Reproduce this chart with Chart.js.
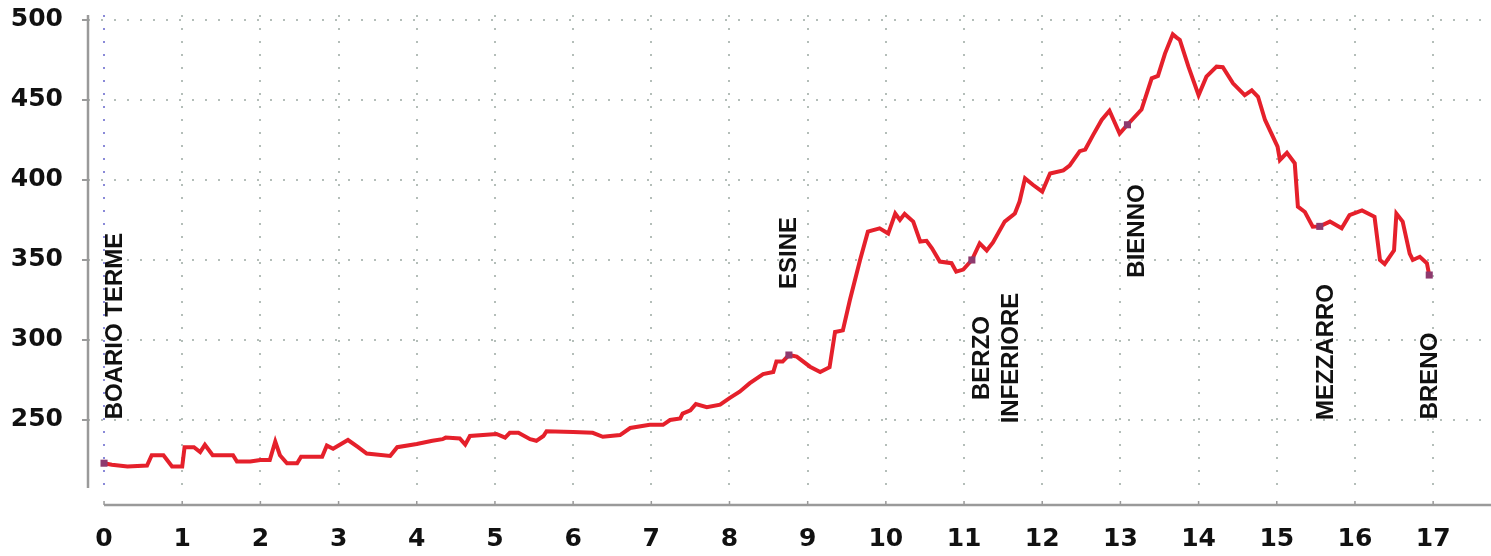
<!DOCTYPE html>
<html>
<head>
<meta charset="utf-8">
<script src="https://cdn.jsdelivr.net/npm/chart.js@4.4.1/dist/chart.umd.min.js"></script>
<style>
  html, body { margin: 0; padding: 0; background: #fff; }
  #wrap { width: 1491px; height: 556px; }
</style>
</head>
<body>
<div id="wrap"><canvas id="profile"></canvas></div>
<script>
// distance along the route (km) and altitude (m)
const km = [
    0.00, 0.10, 0.30, 0.55, 0.61, 0.76, 0.87, 1.00, 1.03, 1.15, 1.23, 1.29, 1.39, 1.65, 1.70, 1.87,
    2.00, 2.12, 2.19, 2.25, 2.34, 2.47, 2.52, 2.79, 2.85, 2.93, 3.12, 3.25, 3.36, 3.66, 3.75, 4.00,
    4.20, 4.33, 4.37, 4.55, 4.62, 4.68, 5.02, 5.13, 5.19, 5.30, 5.45, 5.53, 5.62, 5.66, 6.00, 6.25,
    6.38, 6.60, 6.73, 6.98, 7.15, 7.24, 7.37, 7.40, 7.50, 7.57, 7.71, 7.88, 8.00, 8.13, 8.26, 8.43,
    8.56, 8.60, 8.68, 8.76, 8.86, 9.03, 9.16, 9.28, 9.35, 9.45, 9.54, 9.67, 9.77, 9.92, 10.03, 10.12,
    10.18, 10.24, 10.35, 10.44, 10.52, 10.59, 10.69, 10.84, 10.90, 10.99, 11.10, 11.20, 11.29, 11.37, 11.52, 11.65,
    11.71, 11.78, 11.88, 12.00, 12.10, 12.27, 12.35, 12.48, 12.55, 12.65, 12.76, 12.86, 12.99, 13.09, 13.27, 13.40,
    13.48, 13.57, 13.67, 13.72, 13.76, 13.87, 14.00, 14.10, 14.23, 14.31, 14.44, 14.59, 14.68, 14.76, 14.85, 15.01,
    15.04, 15.13, 15.23, 15.27, 15.36, 15.46, 15.55, 15.68, 15.83, 15.93, 16.09, 16.25, 16.32, 16.38, 16.50, 16.53,
    16.61, 16.70, 16.74, 16.83, 16.92, 16.95
];
const altitude = [
    223, 222, 221, 221.5, 228, 228, 221, 221, 233, 233, 230, 234.5, 228, 228, 224, 224,
    225, 225, 236.5, 228, 223, 223, 227, 227, 234, 232, 237.5, 233, 229, 227.5, 233, 235,
    237, 238, 239, 238.5, 234.6, 240, 241.3, 239, 242, 242, 238, 237, 240, 243, 242.5, 242,
    239.5, 240.6, 245, 247, 247, 250, 251, 254, 256, 260, 258, 259.6, 263.7, 267.7, 273, 278.7,
    280, 286.5, 286.5, 290.6, 289.6, 283.3, 280, 283, 305, 306, 325, 350, 367.7, 369.8, 366.5, 379,
    375, 378.8, 374, 361.5, 362, 357.3, 349, 348, 342.7, 344, 350, 360.4, 356, 361, 374, 379,
    386.5, 401, 397, 392.7, 404, 406, 409, 418, 419, 428, 437.5, 443.3, 429, 434.5, 444, 463.5,
    465, 479, 491, 489, 487.5, 470.8, 453, 464.6, 470.8, 470.5, 460.4, 453, 456, 452, 437.5, 420.8,
    412.5, 417, 410.4, 383.3, 380, 370.8, 371, 374, 369.8, 378, 381, 377, 350, 347.5, 356, 379,
    374, 354, 350, 352, 348, 340.6
];

// stations on the route
const stationNames = ['BOARIO TERME', 'ESINE', 'BERZO\nINFERIORE', 'BIENNO', 'MEZZARRO', 'BRENO'];
const stationKm = [0, 8.76, 11.10, 13.09, 15.55, 16.95];
const stationAlt = [223, 290.6, 350, 434.5, 371, 340.6];
// where each name sits (centre of the rotated text)
const labelKm = [0.15, 8.76, 11.42, 13.22, 15.63, 16.96];
const labelAlt = [308.75, 354.4, 288.75, 368.1, 292.5, 277.5];

const tickFont = { family: '"DejaVu Sans", sans-serif', size: 25, weight: 'bold' };

const profilePlugin = {
    id: 'profileDecor',
    afterDraw(chart) {
        const { ctx, chartArea, scales } = chart;
        const xs = scales.x, ys = scales.y;
        ctx.save();
        // detached axis lines
        ctx.strokeStyle = '#9a9a9a';
        ctx.lineWidth = 2.5;
        ctx.beginPath();
        ctx.moveTo(chartArea.left, chartArea.top);
        ctx.lineTo(chartArea.left, chartArea.bottom);
        const axisY = chartArea.bottom + 17;
        ctx.moveTo(xs.getPixelForValue(0), axisY);
        ctx.lineTo(chartArea.right, axisY);
        ctx.stroke();
        ctx.lineWidth = 1.5;
        ctx.beginPath();
        for (let k = 0; k <= 17; k++) {
            const px = xs.getPixelForValue(k);
            ctx.moveTo(px, axisY);
            ctx.lineTo(px, axisY - 4);
        }
        ctx.stroke();

        // station names, rotated
        ctx.fillStyle = '#111';
        ctx.font = 'bold 24px "Liberation Sans", Arial, sans-serif';
        ctx.textAlign = 'center';
        ctx.textBaseline = 'middle';
        stationNames.forEach((name, i) => {
            const lines = name.split('\n');
            const cx = xs.getPixelForValue(labelKm[i]);
            const cy = ys.getPixelForValue(labelAlt[i]);
            lines.forEach((line, j) => {
                const lx = cx + (j - (lines.length - 1) / 2) * 29;
                ctx.save();
                ctx.translate(lx, cy);
                ctx.rotate(-Math.PI / 2);
                ctx.fillText(line, 0, 0);
                ctx.restore();
            });
        });
        ctx.restore();
    }
};

new Chart(document.getElementById('profile'), {
    type: 'line',
    data: {
        datasets: [
            {
                type: 'scatter',
                label: 'Stations',
                data: stationKm.map((k, i) => ({ x: k, y: stationAlt[i] })),
                pointStyle: 'rect',
                pointRadius: 5,
                backgroundColor: '#8e3a6e',
                borderWidth: 0,
                order: 0
            },
            {
                label: 'Altitude',
                data: km.map((k, i) => ({ x: k, y: altitude[i] })),
                borderColor: '#e5202b',
                borderWidth: 4,
                pointRadius: 0,
                tension: 0,
                fill: false,
                order: 1
            }
        ]
    },
    options: {
        responsive: true,
        maintainAspectRatio: false,
        animation: false,
        layout: { autoPadding: false, padding: { top: 15, left: 0, right: 0, bottom: 0 } },
        plugins: { legend: { display: false }, tooltip: { enabled: false } },
        scales: {
            x: {
                type: 'linear',
                min: -0.205,
                max: 17.74,
                afterFit: s => { s.height = 68; s.paddingLeft = 0; s.paddingRight = 0; },
                ticks: { stepSize: 1, includeBounds: false, font: tickFont, color: '#111', padding: 36, maxRotation: 0 },
                grid: {
                    color: c => (c.tick && c.tick.value === 0 ? '#8a8ad8' : '#b4beb9'),
                    lineWidth: 2,
                    drawTicks: false
                },
                border: { display: false, dash: [2, 11] }
            },
            y: {
                min: 207.5,
                max: 503.1,
                afterFit: s => { s.width = 88; s.paddingTop = 0; s.paddingBottom = 0; },
                ticks: { stepSize: 50, includeBounds: false, font: tickFont, color: '#111', padding: 19 },
                grid: {
                    color: '#b4beb9',
                    lineWidth: 2,
                    drawTicks: true,
                    tickLength: 6,
                    tickColor: '#9a9a9a',
                    tickWidth: 2,
                    tickBorderDash: []
                },
                border: { display: false, dash: [2, 11] }
            }
        }
    },
    plugins: [profilePlugin]
});
</script>
</body>
</html>
